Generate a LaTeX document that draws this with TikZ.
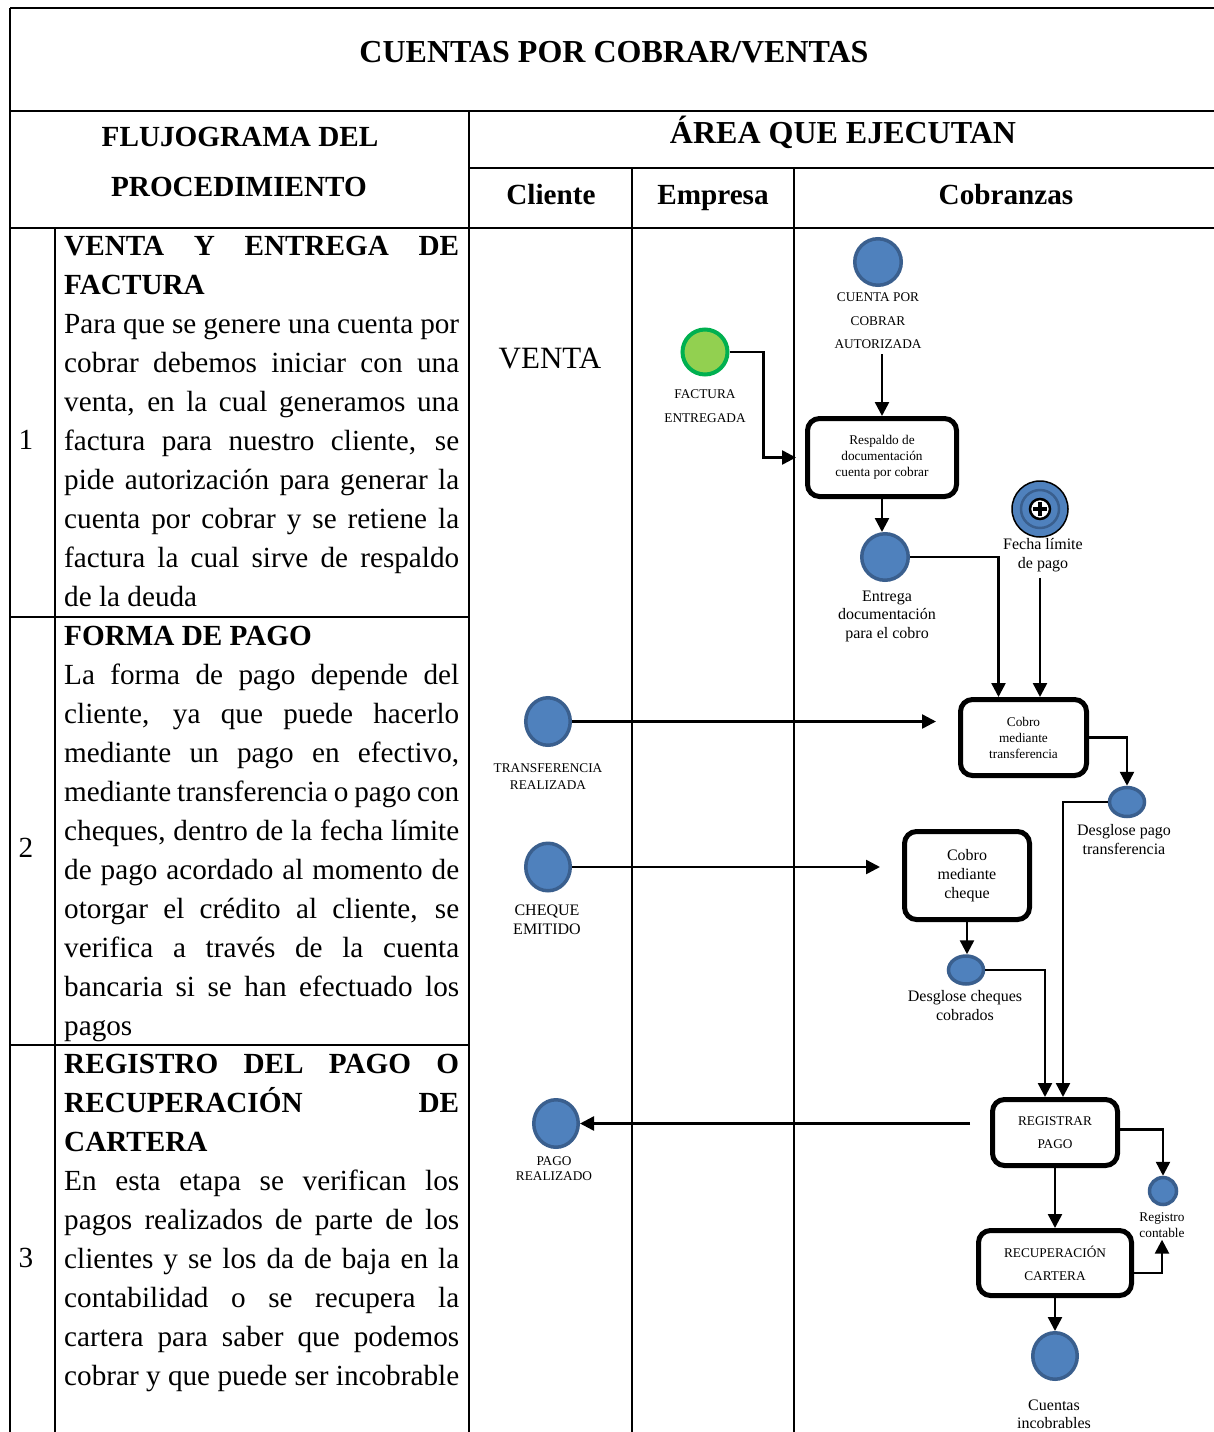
\documentclass[tikz,border=0pt]{standalone}
\usepackage{fontspec}
\setmainfont{Liberation Serif}
\usetikzlibrary{arrows.meta,shapes.geometric,calc}
\definecolor{evblue}{HTML}{4F81BD}
\definecolor{evline}{HTML}{3A5F8E}
\definecolor{stgreen}{HTML}{92D050}
\definecolor{stline}{HTML}{00B050}
\newcommand\jl[1]{\hbox to 395pt{#1}}
\newcommand\fs[2]{\fontsize{#1}{#2}\selectfont}
\begin{document}
\begin{tikzpicture}[x=1pt,y=-1pt,
  tab/.style={line width=2pt},
  arr/.style={line width=2.5pt,-{Triangle[length=14pt,width=14pt]}},
  ev/.style={ellipse,fill=evblue,draw=evline,line width=3.5pt,inner sep=0},
  task/.style={draw,rounded corners=12pt,line width=5pt,fill=white,align=center,inner sep=0},
  lbl/.style={align=center,inner sep=0},
  head/.style={inner sep=0,font=\fs{29.2}{39}\bfseries},
  body/.style={anchor=base west,inner sep=0}]
\fill[white] (0,0) rectangle (1214,1432);
\useasboundingbox (0,0) rectangle (1214,1432);
% table
\draw[tab] (10,8) -- (1214,8);
\draw[tab] (10,8) -- (10,1432);
\draw[tab] (10,111) -- (1214,111);
\draw[tab] (469,168) -- (1214,168);
\draw[tab] (10,228) -- (1214,228);
\draw[tab] (469,111) -- (469,1432);
\draw[tab] (632,168) -- (632,1432);
\draw[tab] (794,168) -- (794,1432);
\draw[tab] (55,228) -- (55,1432);
\draw[tab] (10,617) -- (469,617);
\draw[tab] (10,1045) -- (469,1045);
% headers
\node[inner sep=0,font=\fs{32}{38}\bfseries] (title) at (614,52) {CUENTAS POR COBRAR/VENTAS};
\node[head] (flujo1) at (240,137) {FLUJOGRAMA DEL};
\node[head] (flujo2) at (239,187) {PROCEDIMIENTO};
\node[inner sep=0,font=\fs{32}{38}\bfseries] (area) at (843,132) {ÁREA QUE EJECUTAN};
\node[head] (cli) at (551,195) {Cliente};
\node[head] (emp) at (713,198) {Empresa};
\node[head] (cob) at (1006,195) {Cobranzas};
% numbers
\node[inner sep=0,font=\fs{29.2}{39}] (n1) at (26,440) {1};
\node[inner sep=0,font=\fs{29.2}{39}] (n2) at (26,848) {2};
\node[inner sep=0,font=\fs{29.2}{39}] (n3) at (26,1258) {3};
% left texts
\node[body] (t1) at (64,255) {\fs{29.2}{39}\vtop{\bfseries
 \jl{VENTA Y ENTREGA DE}
 \hbox{FACTURA}
 \mdseries
 \jl{Para que se genere una cuenta por}
 \jl{cobrar debemos iniciar con una}
 \jl{venta, en la cual generamos una}
 \jl{factura para nuestro cliente, se}
 \jl{pide autorización para generar la}
 \jl{cuenta por cobrar y se retiene la}
 \jl{factura la cual sirve de respaldo}
 \hbox{de la deuda}}};
\node[body] (t2) at (64,645) {\fs{29.2}{39}\vtop{\bfseries
 \hbox{FORMA DE PAGO}
 \mdseries
 \jl{La forma de pago depende del}
 \jl{cliente, ya que puede hacerlo}
 \jl{mediante un pago en efectivo,}
 \jl{mediante transferencia o pago con}
 \jl{cheques, dentro de la fecha límite}
 \jl{de pago acordado al momento de}
 \jl{otorgar el crédito al cliente, se}
 \jl{verifica a través de la cuenta}
 \jl{bancaria si se han efectuado los}
 \hbox{pagos}}};
\node[body] (t3) at (64,1073) {\fs{29.2}{39}\vtop{\bfseries
 \jl{REGISTRO DEL PAGO O}
 \jl{RECUPERACIÓN DE}
 \hbox{CARTERA}
 \mdseries
 \jl{En esta etapa se verifican los}
 \jl{pagos realizados de parte de los}
 \jl{clientes y se los da de baja en la}
 \jl{contabilidad o se recupera la}
 \jl{cartera para saber que podemos}
 \jl{cobrar y que puede ser incobrable}}};
% lane content
\node[inner sep=0,font=\fs{31}{36}] (venta) at (550,358) {VENTA};
\node[ev,minimum width=46.5pt,minimum height=46.5pt] (cxc) at (878,262) {};
\node[lbl,font=\fs{13.3}{23.5}] (cxcl) at (878,321) {CUENTA POR\\COBRAR\\AUTORIZADA};
\node[circle,fill=stgreen,draw=stline,line width=4pt,minimum size=45pt,inner sep=0] (fac) at (705,352) {};
\node[lbl,font=\fs{13.3}{24}] (facl) at (705,406) {FACTURA\\ENTREGADA};
\node[task,minimum width=149pt,minimum height=78pt,font=\fs{13.3}{16}] (resp) at (882,457.5) {Respaldo de\\documentación\\cuenta por cobrar};
\node[ev,minimum width=46.5pt,minimum height=46.5pt] (ent) at (885,557) {};
\node[lbl,font=\fs{16}{18.5}] (entl) at (887,616) {Entrega\\documentación\\para el cobro};
\node[circle,fill=evblue,draw=black,line width=1.5pt,minimum size=56pt,inner sep=0] (fecha) at (1040,509) {};
\draw[evline,line width=2.5pt] (fecha.center) circle[radius=19pt];
\draw[fill=white,draw=black,line width=2.5pt] (fecha.center) circle[radius=10pt];
\draw[line width=4pt] ($(fecha.center)+(-7,0)$) -- ($(fecha.center)+(7,0)$);
\draw[line width=4pt] ($(fecha.center)+(0,-7)$) -- ($(fecha.center)+(0,7)$);
\node[lbl,font=\fs{16}{19}] (fechal) at (1043,555) {Fecha límite\\de pago};
\node[task,minimum width=126pt,minimum height=76pt,font=\fs{13.3}{16}] (cobT) at (1023.5,737.5) {Cobro\\mediante\\transferencia};
\node[ev,minimum width=44.5pt,minimum height=47.5pt] (tr) at (548,721.5) {};
\node[lbl,font=\fs{13.3}{17}] (trl) at (548,777) {TRANSFERENCIA\\REALIZADA};
\node[ev,minimum width=44.5pt,minimum height=47.5pt] (ch) at (548,867) {};
\node[lbl,font=\fs{16}{19}] (chl) at (547,920) {CHEQUE\\EMITIDO};
\node[ev,minimum width=35pt,minimum height=29pt] (dpt) at (1127,802) {};
\node[lbl,font=\fs{16}{19}] (dptl) at (1124,840) {Desglose pago\\transferencia};
\node[task,minimum width=125pt,minimum height=88pt,font=\fs{16}{19}] (cobC) at (967,875.5) {Cobro\\mediante\\cheque};
\node[ev,minimum width=35pt,minimum height=28pt] (dch) at (966,970) {};
\node[lbl,font=\fs{16}{19}] (dchl) at (965,1006) {Desglose cheques\\cobrados};
\node[task,minimum width=125pt,minimum height=66pt,font=\fs{13.3}{23}] (reg) at (1055,1132.5) {REGISTRAR\\PAGO};
\node[ev,minimum width=44.5pt,minimum height=47.5pt] (pago) at (556,1123.5) {};
\node[lbl,font=\fs{13.3}{15}] (pagol) at (554,1169) {PAGO\\REALIZADO};
\node[ev,minimum width=27pt,minimum height=27pt] (rc) at (1163,1191) {};
\node[lbl,font=\fs{13.3}{16}] (rcl) at (1162,1225) {Registro\\contable};
\node[task,minimum width=153pt,minimum height=65pt,font=\fs{13.3}{23}] (rec) at (1055,1263) {RECUPERACIÓN\\CARTERA};
\node[ev,minimum width=44.5pt,minimum height=46.5pt] (inc) at (1055,1356) {};
\node[lbl,font=\fs{16}{18}] (incl) at (1054,1414) {Cuentas\\incobrables};
% connectors
\draw[arr,shorten >=9pt] (fac.east) -- ++(34,0) |- (resp.west);
\draw[arr,shorten <=5pt] (resp.north |- cxcl.south) -- (resp.north);
\draw[arr] (resp.south) -- (resp.south |- ent.north);
\draw[arr] (ent.east) -| ($(cobT.north)+(-25,0)$);
\draw[arr,shorten <=6pt] (fecha.center |- fechal.south) -- (fecha.center |- cobT.north);
\draw[arr,shorten >=22pt] (tr.east) -- (tr.east -| cobT.west);
\draw[arr] (cobT.east) -| (dpt.north);
\draw[arr] (dpt.west) -| ($(reg.north)+(8,0)$);
\draw[arr,shorten >=22pt] (ch.east) -- (ch.east -| cobC.west);
\draw[arr] (cobC.south) -- (cobC.south |- dch.north);
\draw[arr] (dch.east) -| ($(reg.north)+(-10,0)$);
\draw[arr,shorten <=20pt] (reg.west |- pago.east) -- (pago.east);
\draw[arr] ($(reg.east)+(0,-3)$) -| (rc.north);
\draw[arr] (reg.south) -- (rec.north);
\draw[arr,shorten >=2pt] ($(rec.east)+(0,10)$) -| (rcl.south);
\draw[arr] (rec.south) -- (rec.south |- inc.north);
\end{tikzpicture}
\end{document}
